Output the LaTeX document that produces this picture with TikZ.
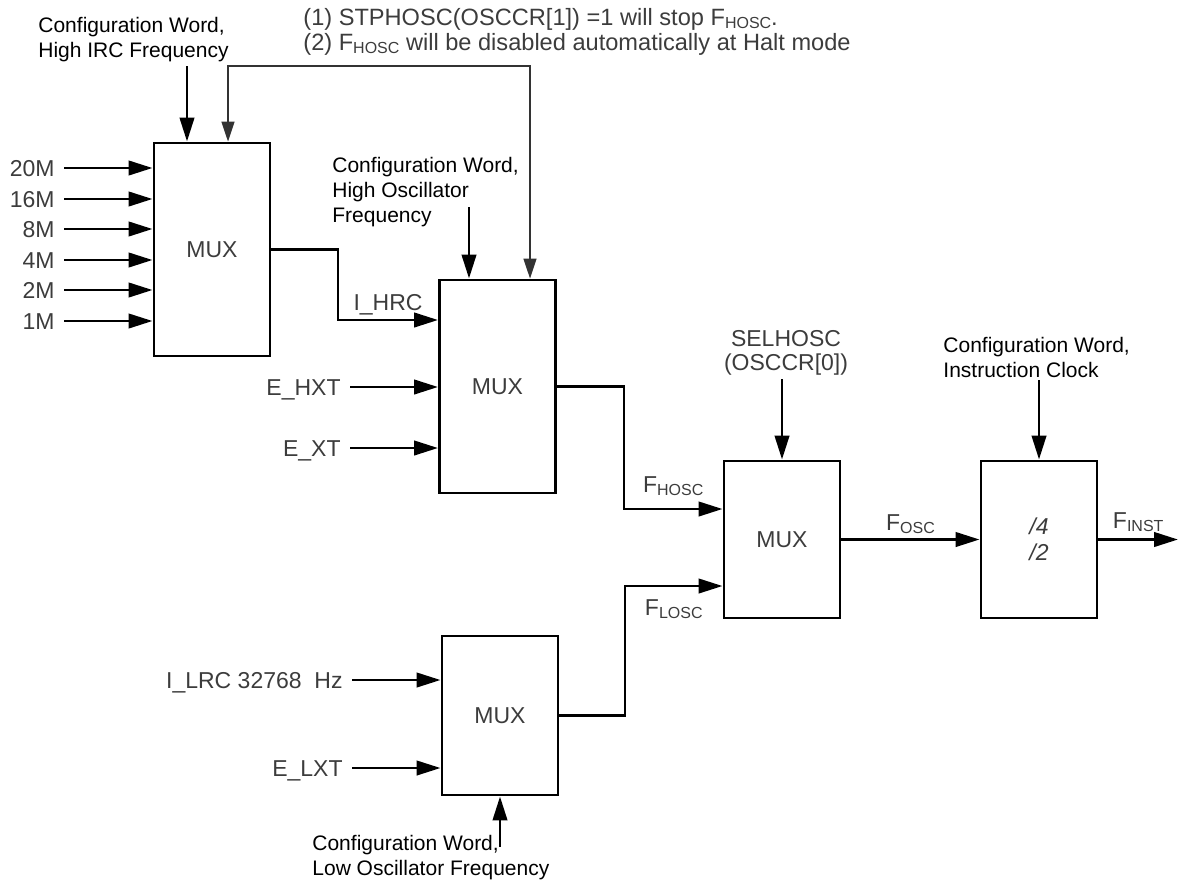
\documentclass[tikz,border=0pt]{standalone}
\usepackage{fontspec}
\setmainfont{Liberation Sans}
\usetikzlibrary{arrows.meta,calc}

\definecolor{labgray}{RGB}{60,60,60}
\newcommand{\lowidx}[1]{\raisebox{-1.5pt}{\fontsize{8}{8}\selectfont #1}}

\tikzset{
  muxbox/.style={draw, line width=1.45pt, minimum width=58pt, inner sep=0pt,
    text=labgray, font=\fontsize{11.5}{13}\selectfont, align=center},
  sig/.style={line width=1.45pt, -{Triangle[length=12pt,width=7.2pt]}},
  fb/.style={line width=0.7pt, draw=black!80,
    {Triangle[length=10pt,width=6.5pt]}-{Triangle[length=10pt,width=6.5pt]}},
  inlab/.style={anchor=east, inner xsep=4.5pt, inner ysep=0pt, text height=8.2pt,
    text depth=0pt, text=labgray, font=\fontsize{11.5}{13}\selectfont},
  wirelab/.style={inner sep=1pt, text height=8.2pt, text depth=0pt,
    text=labgray, font=\fontsize{11.5}{13}\selectfont},
  cfgtxt/.style={anchor=north west, align=left, inner sep=0pt,
    font=\fontsize{10.5}{12.5}\selectfont},
  notetxt/.style={anchor=north west, align=left, inner sep=0pt, text=labgray,
    font=\fontsize{11.8}{12.5}\selectfont},
}

\begin{document}
\begin{tikzpicture}[x=0.5pt,y=-0.5pt]
  \useasboundingbox (0,0) rectangle (1181,884);

  % Blocks
  \node[muxbox, minimum height=106.5pt] (mux1) at (212,249.5) {MUX};
  \node[muxbox, minimum height=106.5pt] (mux2) at (497.5,386.5) {MUX};
  \node[muxbox, minimum height=78.5pt] (mux3) at (782,539.5) {MUX};
  \node[muxbox, minimum height=79.5pt] (mux4) at (500,715.5) {MUX};
  \node[muxbox, minimum height=78.5pt] (div) at (1039,539.5) {\textit{/4}\\\textit{/2}};

  % IRC inputs
  \foreach \f/\y in {20M/168,16M/199,8M/229,4M/260,2M/290,1M/321} {
    \node[inlab] (in\f) at (64,\y) {\f};
    \draw[sig] (in\f) -- (in\f -| mux1.west);
  }

  % Crystal and LRC inputs
  \node[inlab] (ehxt) at (350,387) {E\_HXT};
  \node[inlab] (ext) at (350,448) {E\_XT};
  \node[inlab] (ilrc) at (352,680) {I\_LRC 32768\ \ Hz};
  \node[inlab] (elxt) at (352,768) {E\_LXT};
  \draw[sig] (ehxt) -- (ehxt -| mux2.west);
  \draw[sig] (ext) -- (ext -| mux2.west);
  \draw[sig] (ilrc) -- (ilrc -| mux4.west);
  \draw[sig] (elxt) -- (elxt -| mux4.west);

  % Select inputs
  \node[cfgtxt] (cfgirc) at (38,17) {Configuration Word,\\High IRC Frequency};
  \coordinate (ircout) at (187,66);
  \draw[sig] (ircout) -- (ircout |- mux1.north);

  \node[cfgtxt] (cfghosc) at (332,157) {Configuration Word,\\High Oscillator\\Frequency};
  \coordinate (hoscout) at (469,207);
  \draw[sig] (hoscout) -- (hoscout |- mux2.north);

  \node[notetxt, anchor=center, align=center, font=\fontsize{11.5}{12}\selectfont]
    (selhosc) at (786,353) {SELHOSC\\(OSCCR[0])};
  \coordinate (selout) at (782,379);
  \draw[sig] (selout) -- (mux3.north);

  \node[cfgtxt] (cfgclk) at (943,337) {Configuration Word,\\Instruction Clock};
  \coordinate (clkout) at (1039,380);
  \draw[sig] (clkout) -- (div.north);

  \node[cfgtxt] (cfglxt) at (312,835) {Configuration Word,\\Low Oscillator Frequency};
  \coordinate (lxtout) at (500,847);
  \draw[sig] (lxtout) -- (mux4.south);

  % Notes and STPHOSC line
  \node[notetxt] (notes) at (303,8) {(1) STPHOSC(OSCCR[1]) =1 will stop F\lowidx{HOSC}.\\
    (2) F\lowidx{HOSC} will be disabled automatically at Halt mode};
  \coordinate (fbA) at (228,66);
  \coordinate (fbB) at (530,66);
  \draw[fb] (fbA |- mux1.north) -- (fbA) -- (fbB) -- (fbB |- mux2.north);

  % Clock path
  \coordinate (hrcbend) at (338,320);
  \draw[sig] (mux1.east) -| (hrcbend) -- (hrcbend -| mux2.west)
    node[wirelab, midway, above=3pt] (lhrc) {I\_HRC};
  \coordinate (hoscbend) at (624,509);
  \draw[sig] (mux2.east) -| (hoscbend) -- (hoscbend -| mux3.west)
    node[wirelab, midway, above=6.5pt] (lhosc) {F\lowidx{HOSC}};
  \coordinate (loscbend) at (625,586);
  \draw[sig] (mux4.east) -| (loscbend) -- (loscbend -| mux3.west)
    node[wirelab, midway, below=5pt] (llosc) {F\lowidx{LOSC}};
  \draw[sig] (mux3.east) -- (div.west)
    node[wirelab, midway, above=3pt] (losc) {F\lowidx{OSC}};
  \coordinate (finst) at (1178,539.5);
  \draw[sig] (div.east) -- (finst)
    node[wirelab, midway, above=4pt] (lfinst) {F\lowidx{INST}};
\end{tikzpicture}
\end{document}
